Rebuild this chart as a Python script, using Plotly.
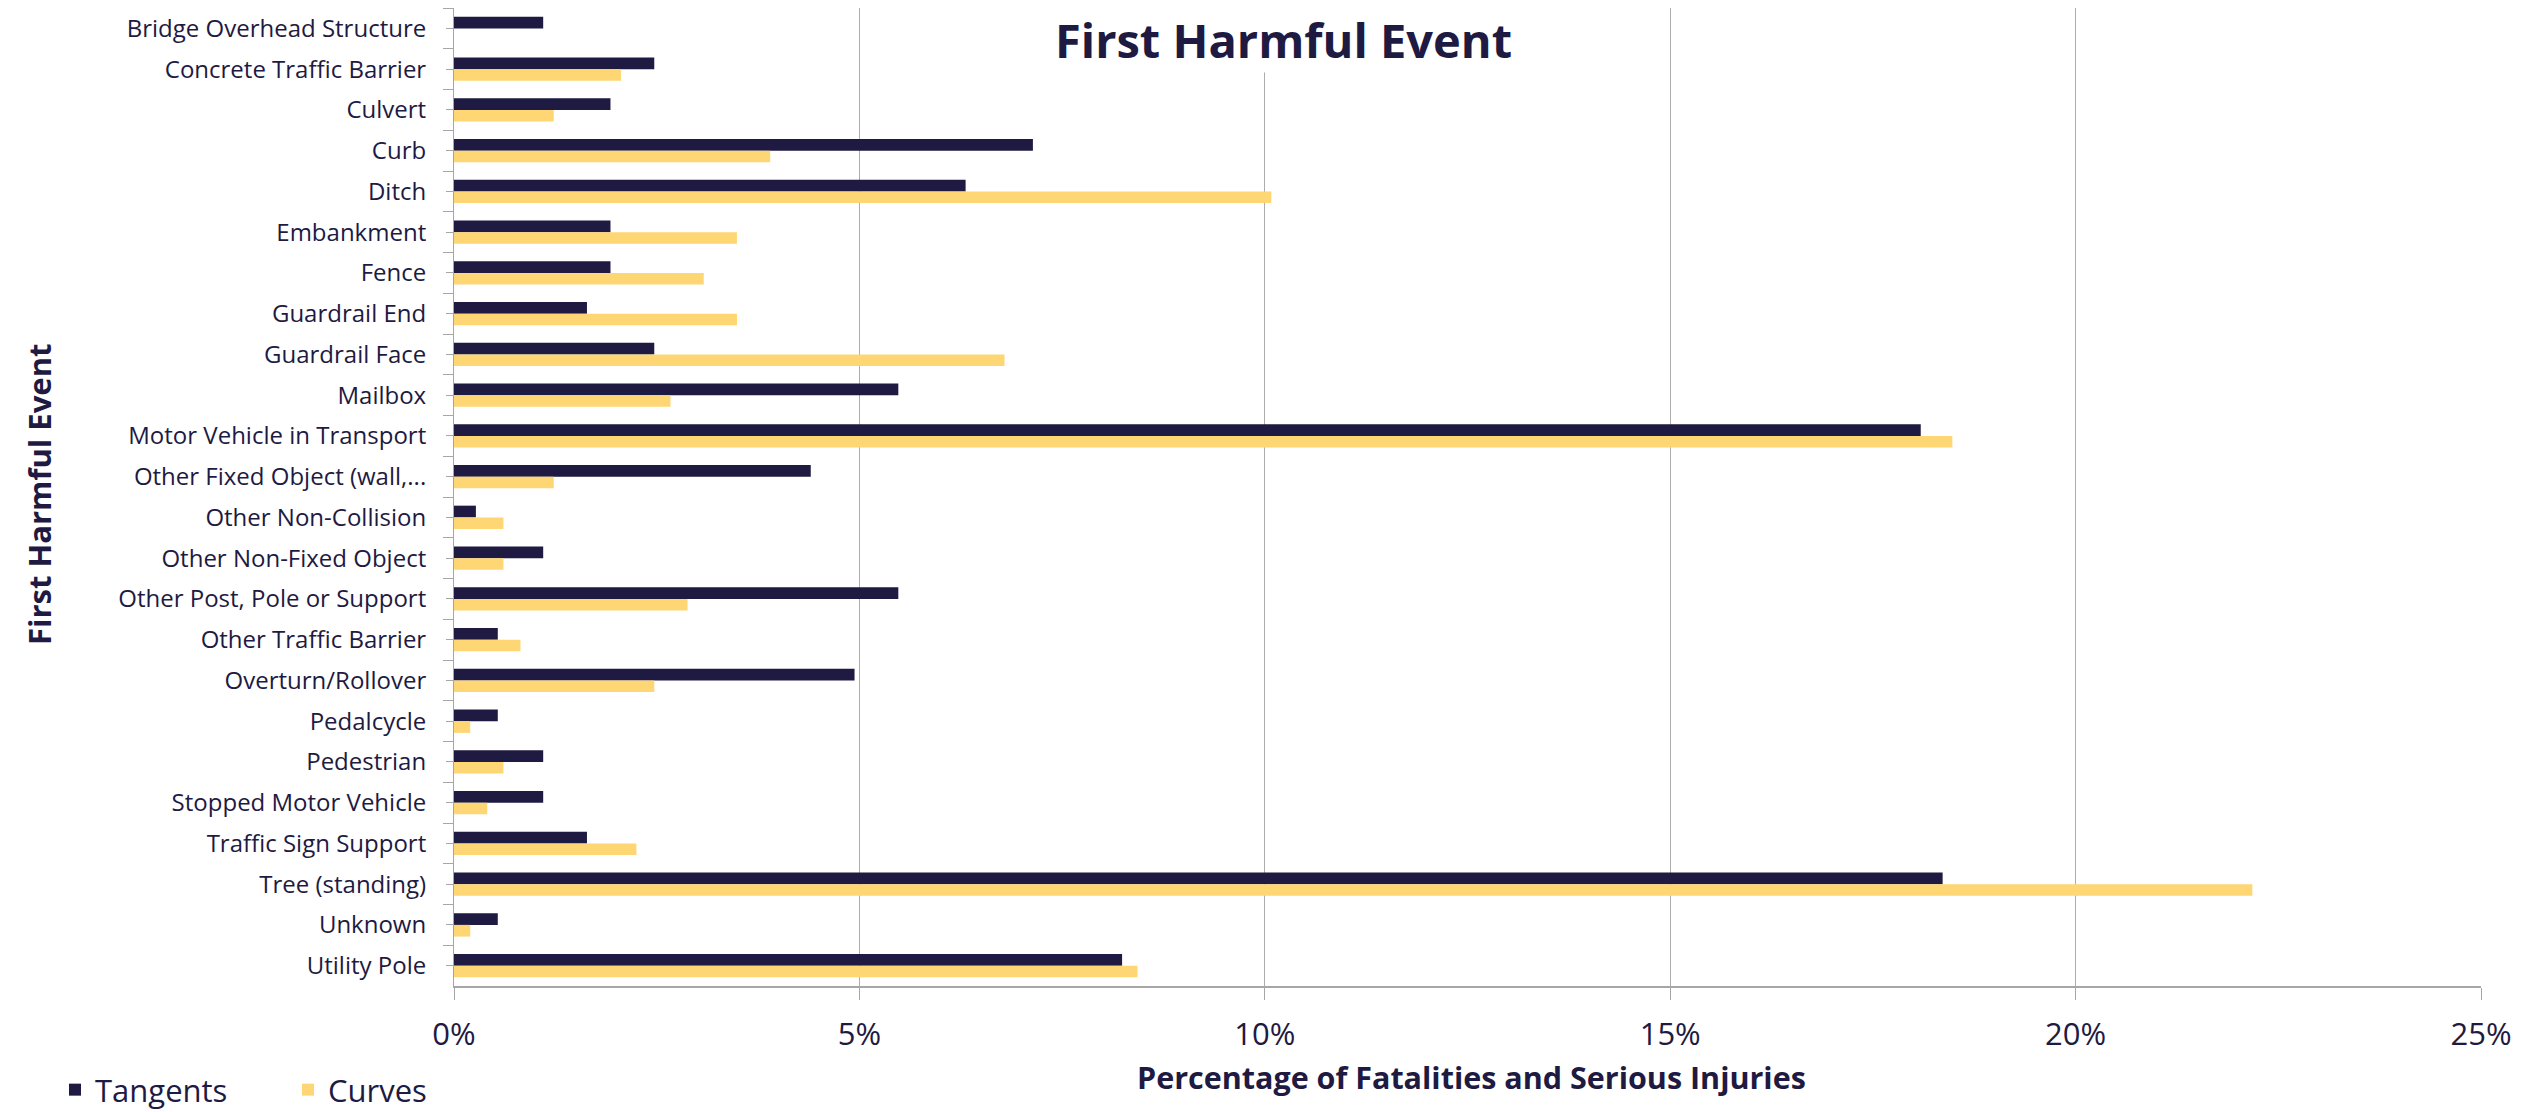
import plotly.graph_objects as go

# Data (share of fatalities and serious injuries, %)
categories = [
    "Bridge Overhead Structure", "Concrete Traffic Barrier", "Culvert", "Curb", "Ditch",
    "Embankment", "Fence", "Guardrail End", "Guardrail Face", "Mailbox",
    "Motor Vehicle in Transport", "Other Fixed Object (wall,...", "Other Non-Collision",
    "Other Non-Fixed Object", "Other Post, Pole or Support", "Other Traffic Barrier",
    "Overturn/Rollover", "Pedalcycle", "Pedestrian", "Stopped Motor Vehicle",
    "Traffic Sign Support", "Tree (standing)", "Unknown", "Utility Pole",
]
tangents = [1.10, 2.47, 1.93, 7.14, 6.31, 1.93, 1.93, 1.64, 2.47, 5.48,
            18.09, 4.40, 0.27, 1.10, 5.48, 0.54, 4.94, 0.54, 1.10, 1.10,
            1.64, 18.36, 0.54, 8.24]
curves = [None, 2.06, 1.23, 3.90, 10.08, 3.49, 3.08, 3.49, 6.79, 2.67,
          18.48, 1.23, 0.61, 0.61, 2.88, 0.82, 2.47, 0.20, 0.61, 0.41,
          2.25, 22.18, 0.20, 8.43]
x_ticks = [0, 5, 10, 15, 20, 25]
x_tick_labels = ["0%", "5%", "10%", "15%", "20%", "25%"]

navy = "#1E1A42"
gold = "#FED674"
font = "Open Sans"

# page body has an 8px margin, so the figure is drawn 8px smaller than the window
W, H = 2518, 1104
plot_w, plot_h = 2027, 978

def px(page_x):
    return (page_x - 454) / plot_w

def py(page_y):
    return (986 - page_y) / plot_h

fig = go.Figure()
fig.add_trace(go.Bar(y=categories, x=tangents, name="Tangents", orientation="h",
                     marker=dict(color=navy, line=dict(width=0))))
fig.add_trace(go.Bar(y=categories, x=curves, name="Curves", orientation="h",
                     marker=dict(color=gold, line=dict(width=0))))

fig.update_layout(
    width=W, height=H,
    margin=dict(l=446, r=W - 446 - plot_w, t=0, b=H - plot_h, autoexpand=False),
    paper_bgcolor="white", plot_bgcolor="white",
    barmode="group", bargap=0.425, bargroupgap=0,
    font=dict(family=font, color=navy, size=24),
    legend=dict(orientation="h", xref="container", yref="container",
                x=47 / W, xanchor="left", y=22 / H, yanchor="middle",
                font=dict(size=31, color=navy), itemwidth=30, entrywidth=188,
                tracegroupgap=0),
    hovermode=False,
)

fig.update_xaxes(range=[0, 25], tickvals=x_ticks, ticktext=x_tick_labels,
                 showgrid=True, gridcolor="#ADADAD", gridwidth=1,
                 showline=True, linecolor="#A6A6A6", linewidth=2,
                 ticks="outside", ticklen=12, tickcolor="#A6A6A6",
                 ticklabelstandoff=8, tickfont=dict(size=31, color=navy),
                 zeroline=False)
fig.update_yaxes(autorange="reversed", type="category",
                 showline=True, linecolor="#A6A6A6", linewidth=1,
                 ticks="outside", ticklen=10, tickcolor="#A6A6A6", tickson="boundaries",
                 ticklabelstandoff=22, tickfont=dict(size=24, color=navy),
                 showgrid=False)
# second (unlabelled) axis only for the small tick marks at each category centre
fig.update_layout(yaxis2=dict(overlaying="y", side="left", type="linear",
                              range=[len(categories) - 0.5, -0.5],
                              tickvals=list(range(len(categories))), showticklabels=False,
                              ticks="outside", ticklen=7, tickcolor="#A6A6A6",
                              showgrid=False, showline=False, zeroline=False))
fig.add_trace(go.Scatter(x=[None], y=[None], yaxis="y2", showlegend=False, hoverinfo="skip"))

# chart title (white box hides the gridline behind it, as in the original)
fig.add_annotation(text="<b>First Harmful Event</b>", xref="paper", yref="paper",
                   x=px(1283), y=py(40), xanchor="center", yanchor="middle",
                   showarrow=False, font=dict(size=47, color=navy, family=font),
                   bgcolor="white", borderpad=0)
# axis titles
fig.add_annotation(text="<b>Percentage of Fatalities and Serious Injuries</b>", xref="paper", yref="paper",
                   x=px(1471), y=py(1077), xanchor="center", yanchor="middle",
                   showarrow=False, font=dict(size=30.5, color=navy, family=font))
fig.add_annotation(text="<b>First Harmful Event</b>", xref="paper", yref="paper",
                   x=px(39), y=py(495), xanchor="center", yanchor="middle",
                   textangle=-90, showarrow=False, font=dict(size=31, color=navy, family=font))

fig.write_html("out.html")
